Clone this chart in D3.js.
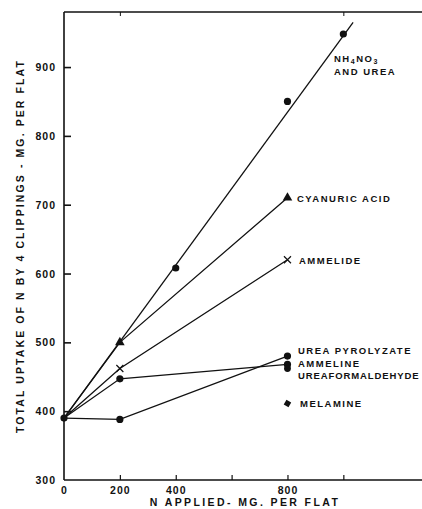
<!DOCTYPE html>
<html>
<head>
<meta charset="utf-8">
<script src="https://cdn.jsdelivr.net/npm/d3@7/dist/d3.min.js"></script>
<style>
  html, body { margin: 0; padding: 0; background: #fff; }
  svg { display: block; }
  text { font-family: "Liberation Sans", Arial, sans-serif; font-weight: bold; fill: #111; }
</style>
</head>
<body>
<svg id="chart" width="422" height="509"></svg>
<script>
// ---- data ----
const xTickValues = [200, 400, 600, 800, 1000];
const xTickLabels = [0, 200, 400, 800];
const xTopTicks = [200, 1000];
const yTickValues = [400, 500, 600, 700, 800, 900];
const yTickLabels = [300, 400, 500, 600, 700, 800, 900];

const nh4Points = [[0, 390], [400, 608], [800, 850], [1000, 948]];
const nh4Fit = [[0, 390], [1035, 965]];
const cyanuric = [[0, 390], [200, 500], [800, 710]];
const ammelide = [[0, 390], [200, 462], [800, 620]];
const ammeline = [[0, 390], [200, 447], [800, 468]];
const ureaPyrolyzate = [[0, 390], [200, 388], [800, 480]];
const ureaformaldehyde = [[800, 462]];
const melamine = [[800, 411]];

// ---- scales ----
const svg = d3.select("#chart");
const x = d3.scaleLinear().domain([0, 1278]).range([64, 421]);
const y = d3.scaleLinear().domain([300, 980]).range([480, 12]);

const ink = "#111";

// axes lines
svg.append("line").attr("x1", x(0)).attr("x2", 422).attr("y1", y(300)).attr("y2", y(300))
  .attr("stroke", ink).attr("stroke-width", 1.6);
svg.append("line").attr("x1", x(0)).attr("x2", x(0)).attr("y1", y(300)).attr("y2", y(980))
  .attr("stroke", ink).attr("stroke-width", 1.6);
svg.append("line").attr("x1", x(0)).attr("x2", 422).attr("y1", y(980)).attr("y2", y(980))
  .attr("stroke", ink).attr("stroke-width", 1.6);

// bottom axis (ticks inward)
const xAxis = d3.axisBottom(x).tickValues(xTickValues).tickSize(-5).tickFormat("");
const gx = svg.append("g").attr("transform", `translate(0,${y(300)})`).call(xAxis);
gx.select(".domain").remove();
gx.selectAll("line").attr("stroke", ink).attr("stroke-width", 1.2);

svg.append("g").selectAll("text").data(xTickLabels).join("text")
  .attr("x", d => x(d) + 0.5).attr("y", 494).attr("text-anchor", "middle")
  .attr("font-size", 10.5).attr("letter-spacing", 1).text(d => d);

// top ticks
const xTop = d3.axisTop(x).tickValues(xTopTicks).tickSize(-4).tickFormat("");
const gt = svg.append("g").attr("transform", `translate(0,${y(980)})`).call(xTop);
gt.select(".domain").remove();
gt.selectAll("line").attr("stroke", ink).attr("stroke-width", 1);

// left axis (ticks inward)
const yAxis = d3.axisLeft(y).tickValues(yTickValues).tickSize(-7).tickFormat("");
const gy = svg.append("g").attr("transform", `translate(${x(0)},0)`).call(yAxis);
gy.select(".domain").remove();
gy.selectAll("line").attr("stroke", ink).attr("stroke-width", 1.6);

svg.append("g").selectAll("text").data(yTickLabels).join("text")
  .attr("x", 56).attr("y", d => y(d) + 4).attr("text-anchor", "end")
  .attr("font-size", 10.5).attr("letter-spacing", 1).text(d => d);

// axis titles
svg.append("text").attr("x", 245).attr("y", 506).attr("text-anchor", "middle")
  .attr("font-size", 10.5).attr("letter-spacing", 2.4).text("N APPLIED- MG. PER FLAT");
svg.append("text").attr("transform", "translate(24,246) rotate(-90)").attr("text-anchor", "middle")
  .attr("font-size", 10.5).attr("letter-spacing", 2.1)
  .text("TOTAL UPTAKE OF N BY 4 CLIPPINGS - MG. PER FLAT");

// ---- lines ----
const line = d3.line().x(d => x(d[0])).y(d => y(d[1]));
[nh4Fit, cyanuric, ammelide, ammeline, ureaPyrolyzate].forEach(s => {
  svg.append("path").attr("d", line(s)).attr("fill", "none")
    .attr("stroke", ink).attr("stroke-width", 1.3);
});

// ---- markers ----
function dots(data, r) {
  svg.append("g").selectAll("circle").data(data).join("circle")
    .attr("cx", d => x(d[0])).attr("cy", d => y(d[1])).attr("r", r).attr("fill", ink);
}
dots(nh4Points, 3.6);
dots(ammeline.slice(1), 3.6);
dots(ureaPyrolyzate.slice(1), 3.6);
dots(ureaformaldehyde, 3.4);

svg.append("g").selectAll("path").data(cyanuric.slice(1)).join("path")
  .attr("d", d3.symbol().type(d3.symbolTriangle).size(40))
  .attr("transform", d => `translate(${x(d[0])},${y(d[1])})`).attr("fill", ink);

svg.append("g").selectAll("path").data(ammelide.slice(1)).join("path")
  .attr("d", "M-3.5,-3.5L3.5,3.5M-3.5,3.5L3.5,-3.5")
  .attr("transform", d => `translate(${x(d[0])},${y(d[1])})`)
  .attr("fill", "none").attr("stroke", ink).attr("stroke-width", 1.2);

svg.append("g").selectAll("path").data(melamine).join("path")
  .attr("d", d3.symbol().type(d3.symbolSquare).size(30))
  .attr("transform", d => `translate(${x(d[0])},${y(d[1])}) rotate(30)`).attr("fill", ink);

// ---- series labels ----
const lab = svg.append("g").attr("font-size", 9.5).attr("letter-spacing", 1.5);
const t1 = lab.append("text").attr("x", 334).attr("y", 62);
t1.append("tspan").text("NH");
t1.append("tspan").attr("font-size", 7).attr("dy", 2).text("4");
t1.append("tspan").attr("dy", -2).text("NO");
t1.append("tspan").attr("font-size", 7).attr("dy", 2).text("3");
lab.append("text").attr("x", 334).attr("y", 75).text("AND UREA");
lab.append("text").attr("x", 297).attr("y", 202).text("CYANURIC ACID");
lab.append("text").attr("x", 299).attr("y", 264).text("AMMELIDE");
lab.append("text").attr("x", 298).attr("y", 354).text("UREA PYROLYZATE");
lab.append("text").attr("x", 298).attr("y", 367).text("AMMELINE");
lab.append("text").attr("x", 298).attr("y", 379).attr("letter-spacing", 0.4)
  .attr("textLength", 121).attr("lengthAdjust", "spacing").text("UREAFORMALDEHYDE");
lab.append("text").attr("x", 300).attr("y", 407).text("MELAMINE");
</script>
</body>
</html>
